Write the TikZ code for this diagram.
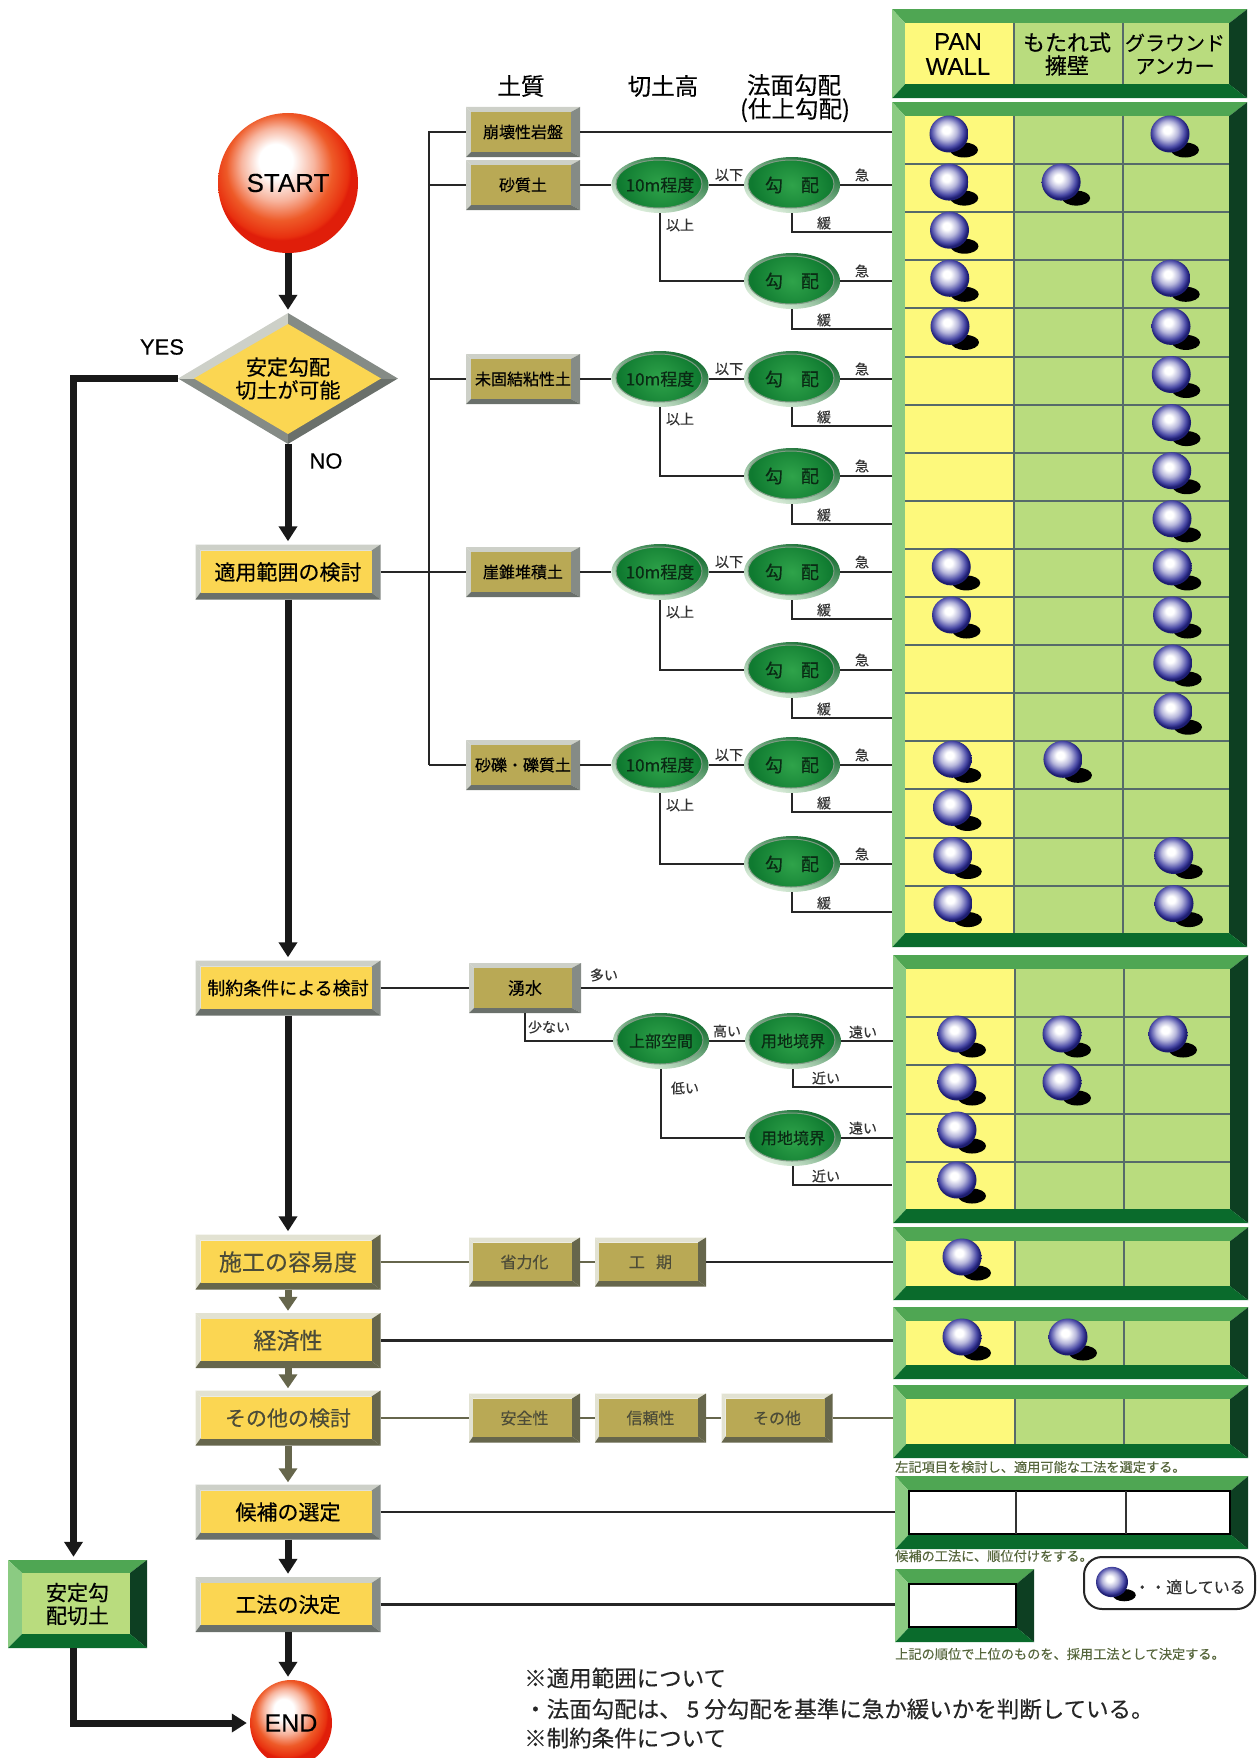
\documentclass[tikz,border=0pt]{standalone}
\usepackage{fontspec}
\setmainfont[FakeBold=0.35]{Noto Sans CJK JP}
\newfontfamily\latinfont[FakeBold=0.25]{Liberation Sans}
\usetikzlibrary{arrows.meta}
\usetikzlibrary{shapes.geometric}

\definecolor{boxyellow}{HTML}{FBD652}
\definecolor{soilface}{HTML}{B9A955}
\definecolor{edgelight}{HTML}{CDD0C8}
\definecolor{edgegrey}{HTML}{858B86}
\definecolor{edgedark}{HTML}{6A706B}
\definecolor{oliveedge}{HTML}{66664C}
\definecolor{olivelight}{HTML}{E2E2D2}
\definecolor{oliveink}{HTML}{4C4C38}
\definecolor{cellyellow}{HTML}{FDF97C}
\definecolor{cellgreen}{HTML}{B9DC7E}
\definecolor{panelleft}{HTML}{8BCB82}
\definecolor{paneltop}{HTML}{4FA653}
\definecolor{panelright}{HTML}{0D3F22}
\definecolor{panelbottom}{HTML}{0A6B2C}
\definecolor{rowgrey}{HTML}{566A6A}
\definecolor{ballblue}{HTML}{4A4AA6}
\definecolor{balldeep}{HTML}{1C1C70}
\definecolor{ballred}{HTML}{E8300F}
\definecolor{balldeepred}{HTML}{E01E0A}
\definecolor{ballorange}{HTML}{EE5A28}
\definecolor{ovalcore}{HTML}{2FA34A}
\definecolor{ovaldeep}{HTML}{0F7A30}
\definecolor{ovalring}{HTML}{7F9A84}
\definecolor{ovaldark}{HTML}{0F6A2C}
\definecolor{ovalpale}{HTML}{E6F4E4}
\definecolor{ovalink}{HTML}{0A2A14}
\definecolor{noteink}{HTML}{56663C}

\pgfdeclareradialshading{ballnavy}{\pgfpoint{-4bp}{6bp}}{color(0bp)=(white); color(5bp)=(white); color(13bp)=(ballblue!40!white); color(21bp)=(ballblue); color(25bp)=(balldeep); color(50bp)=(balldeep)}
\pgfdeclareradialshading{ballfire}{\pgfpoint{-5bp}{9bp}}{color(0bp)=(white); color(6bp)=(white); color(13bp)=(ballorange!45!white); color(19bp)=(ballorange); color(24bp)=(ballred); color(25bp)=(balldeepred); color(50bp)=(balldeepred)}

\newcommand{\sz}[1]{\fontsize{#1}{#1}\selectfont}

\newcommand{\bevelface}[9]{
    \path (path picture bounding box.north west) coordinate (onw)
          (path picture bounding box.north east) coordinate (one)
          (path picture bounding box.south east) coordinate (ose)
          (path picture bounding box.south west) coordinate (osw);
    \path ([xshift=#6pt,yshift=-#5pt]onw) coordinate (inw)
          ([xshift=-#7pt,yshift=-#5pt]one) coordinate (ine)
          ([xshift=-#7pt,yshift=#8pt]ose) coordinate (ise)
          ([xshift=#6pt,yshift=#8pt]osw) coordinate (isw);
    \fill[#1] (onw) -- (one) -- (ine) -- (inw) -- cycle;
    \fill[#2] (onw) -- (osw) -- (isw) -- (inw) -- cycle;
    \fill[#3] (one) -- (ose) -- (ise) -- (ine) -- cycle;
    \fill[#4] (osw) -- (ose) -- (ise) -- (isw) -- cycle;
    \fill[#9] (inw) rectangle (ise);
}

\newcommand{\ballmark}[3][1]{
    \begin{scope}[shift={({#2},{#3})},scale=#1]
        \fill[black] (15,16) ellipse (14 and 7.5);
        \shade[shading=ballnavy] (0,0) ellipse (19.5 and 18.5);
    \end{scope}
}

\tikzset{
    flowbox/.style={minimum width=185pt, minimum height=55pt, inner sep=0pt, font=\sz{21},
        path picture={\bevelface{edgelight}{edgelight}{edgegrey}{edgedark}{6}{5}{9}{7}{boxyellow}}},
    olivebox/.style={flowbox, text=oliveink, font=\sz{23},
        path picture={\bevelface{olivelight}{olivelight}{oliveedge}{oliveedge}{6}{5}{9}{7}{boxyellow}}},
    soilbox/.style={minimum width=114pt, minimum height=50pt, inner sep=0pt, font=\sz{16},
        path picture={\bevelface{edgelight}{edgelight}{edgegrey}{edgedark}{5}{5}{9}{5}{soilface}}},
    dustbox/.style={minimum width=111pt, minimum height=49pt, inner sep=0pt, font=\sz{16}, text=oliveink,
        path picture={\bevelface{olivelight}{olivelight}{oliveedge}{oliveedge}{5}{4}{8}{6}{soilface}}},
    ovalbox/.style={ellipse, minimum width=96pt, minimum height=56pt, inner sep=0pt, text=ovalink, font=\sz{16},
        shade, top color=ovaldark, bottom color=ovalpale, shading angle=-25,
        path picture={\shadedraw[inner color=ovalcore, outer color=ovaldeep, draw=ovalring, line width=1pt]
            ([xshift=-1pt,yshift=1pt]path picture bounding box.center) ellipse (43 and 24);}},
    cellpanel/.style={anchor=north west, minimum width=355pt, inner sep=0pt,
        path picture={\bevelface{paneltop}{panelleft}{panelright}{panelbottom}{14}{13}{18}{14}{cellgreen}
            \fill[cellyellow] (inw) rectangle ([xshift=109pt]isw);
            \draw[rowgrey, line width=1.5pt] ([xshift=109pt]inw) -- ([xshift=109pt]isw);
            \draw[rowgrey, line width=1.5pt] ([xshift=218pt]inw) -- ([xshift=218pt]isw);}},
    whitepanel/.style={anchor=north west, minimum width=353pt, minimum height=73pt, inner sep=0pt,
        path picture={\bevelface{paneltop}{panelleft}{panelright}{panelbottom}{15}{14}{18}{15}{white}
            \draw[black, line width=2pt] (inw) rectangle (ise);
            \draw[black!80, line width=1.5pt] ([xshift=107pt]inw) -- ([xshift=107pt]isw);
            \draw[black!80, line width=1.5pt] ([xshift=217pt]inw) -- ([xshift=217pt]isw);}},
    blankpanel/.style={anchor=north west, minimum width=139pt, minimum height=73pt, inner sep=0pt,
        path picture={\bevelface{paneltop}{panelleft}{panelright}{panelbottom}{15}{14}{18}{15}{white}
            \draw[black, line width=2pt] (inw) rectangle (ise);}},
    flowline/.style={line width=7pt, black!90, -{Triangle[width=18pt,length=15pt]}, shorten >=3pt},
    oliveline/.style={line width=7pt, oliveedge, -{Triangle[width=18pt,length=14pt]}, shorten >=2pt},
    thinline/.style={line width=2.5pt, black!85},
    paleline/.style={line width=2.5pt, oliveedge},
    tag/.style={inner sep=0pt, font=\sz{14}, text=black!80},
    heading/.style={inner sep=0pt, font=\sz{23.5}},
    note/.style={anchor=west, inner sep=0pt, font=\sz{13.2}, text=noteink},
    remark/.style={anchor=west, inner sep=0pt, font=\sz{22.5}, text=black!85},
}

\begin{document}
\begin{tikzpicture}[x=1pt, y=-1pt]
    \useasboundingbox (0,0) rectangle (1257,1758);

    \node[cellpanel, minimum height=89pt] (phead) at (892,9) {};
    \node[cellpanel, minimum height=845pt] (pmain) at (892,102) {};
    \node[cellpanel, minimum height=268pt] (plimit) at (893,955) {};
    \node[cellpanel, minimum height=73pt] (pease) at (893,1227) {};
    \node[cellpanel, minimum height=72pt] (pcost) at (893,1307) {};
    \node[cellpanel, minimum height=73pt] (pother) at (893,1385) {};
    \node[whitepanel] (ppick) at (895,1476) {};
    \node[blankpanel] (pfinal) at (895,1569) {};

    \foreach \r in {1,...,16}
        \draw[rowgrey, line width=2pt] (905,{116+48.1*\r}) -- (1229,{116+48.1*\r});
    \foreach \r in {1,...,4}
        \draw[rowgrey, line width=2pt] (906,{969+48.2*\r}) -- (1230,{969+48.2*\r});

    \node[inner sep=0pt, align=center, font=\latinfont\sz{24}] (hpan) at (958,54) {PAN\\[1pt]WALL};
    \node[inner sep=0pt, align=center, font=\sz{22}] (hmot) at (1067,54) {もたれ式\\[1pt]擁壁};
    \node[inner sep=0pt, align=center, font=\sz{20}] (hgra) at (1175,54) {グラウンド\\[3pt]アンカー};

    \node[heading] (tsoil) at (521,86) {土質};
    \node[heading] (theight) at (663,86) {切土高};
    \node[heading] (tslope) at (794,85) {法面勾配};
    \node[heading] (tfinish) at (795,110) {(仕上勾配)};

    \node[circle, minimum size=140pt, inner sep=0pt, shade, shading=ballfire, font=\latinfont\sz{26}] (start) at (288,183) {START};
    \node[diamond, minimum width=220pt, minimum height=131pt, aspect=1.68, inner sep=0pt, align=center, font=\sz{21},
        path picture={
            \fill[edgelight] (path picture bounding box.center) rectangle (path picture bounding box.north west);
            \fill[edgegrey] (path picture bounding box.center) rectangle (path picture bounding box.north east);
            \fill[edgegrey] (path picture bounding box.center) rectangle (path picture bounding box.south west);
            \fill[edgedark] (path picture bounding box.center) rectangle (path picture bounding box.south east);
            \fill[boxyellow, shift={(path picture bounding box.center)}] (-94,0) -- (0,-54.5) -- (93,0) -- (0,55.5) -- cycle;
        }] (check) at (288,378.5) {安定勾配\\[2pt]切土が可能};
    \node[inner sep=0pt, font=\latinfont\sz{22}] (yes) at (162,347) {YES};
    \node[inner sep=0pt, font=\latinfont\sz{22}] (no) at (326,461) {NO};

    \node[flowbox] (scope) at (288,572) {適用範囲の検討};
    \node[flowbox, font=\sz{18}] (limit) at (288,988) {制約条件による検討};
    \node[olivebox] (ease) at (288,1262) {施工の容易度};
    \node[olivebox] (cost) at (288,1340.5) {経済性};
    \node[olivebox, font=\sz{21}] (other) at (288,1418) {その他の検討};
    \node[flowbox] (pick) at (288,1512) {候補の選定};
    \node[flowbox] (final) at (288,1604.5) {工法の決定};
    \node[minimum width=139pt, minimum height=88pt, inner sep=0pt, align=center, font=\sz{21},
        path picture={\bevelface{paneltop}{panelleft}{panelright}{panelbottom}{13}{14}{17}{14}{cellgreen}}] (stable) at (77.5,1604) {安定勾\\[2pt]配切土};
    \node[ellipse, minimum width=82pt, minimum height=86pt, inner sep=0pt, shade, shading=ballfire, font=\latinfont\sz{25}] (finish) at (291,1723) {END};

    \draw[flowline] (start.south) -- (check.north);
    \draw[flowline] (check.south) -- (scope.north);
    \draw[flowline] (scope.south) -- (limit.north);
    \draw[flowline] (limit.south) -- (ease.north);
    \draw[oliveline] (ease.south) -- (cost.north);
    \draw[oliveline] (cost.south) -- (other.north);
    \draw[oliveline] (other.south) -- (pick.north);
    \draw[flowline] (pick.south) -- (final.north);
    \draw[flowline] (final.south) -- (final.south |- finish.north);
    \draw[flowline] (check.west) -| ([xshift=-4pt]stable.north);
    \draw[flowline] ([xshift=-4pt]stable.south) |- (finish.west);

    \node[soilbox] (soila) at (523,132) {崩壊性岩盤};
    \coordinate (trunka) at (429,132);
    \coordinate (trunkb) at (429,765);
    \draw[thinline] (soila.east) -- (soila.east -| pmain.west);

    \foreach \g/\soil/\y/\d in {b/砂質土/185/96, c/未固結粘性土/379/97, d/崖錐堆積土/572/98, e/砂礫・礫質土/765/99}{
        \node[soilbox] (soil\g) at (523,\y) {\soil};
        \node[ovalbox, font=\sz{17}] (high\g) at (660,\y) {10m程度};
        \node[ovalbox, font=\sz{18}] (upper\g) at (792,\y) {勾\hspace{1em}配};
        \node[ovalbox, font=\sz{18}] (lower\g) at (792,\y+\d) {勾\hspace{1em}配};
        \coordinate (slowu\g) at (892,\y+47);
        \coordinate (slowl\g) at (892,\y+\d+48);
        \draw[thinline] (soil\g.east) -- (high\g.west);
        \draw[thinline] (high\g.east) -- (upper\g.west);
        \draw[thinline] (high\g.south) |- (lower\g.west);
        \draw[thinline] (upper\g.east) -- (upper\g.east -| pmain.west);
        \draw[thinline] (lower\g.east) -- (lower\g.east -| pmain.west);
        \draw[thinline] (upper\g.south) |- (slowu\g);
        \draw[thinline] (lower\g.south) |- (slowl\g);
        \node[tag] (less\g) at (729,\y-10) {以下};
        \node[tag] (more\g) at (680,\y+40) {以上};
        \node[tag] (fastu\g) at (862,\y-10) {急};
        \node[tag] (gentu\g) at (824,\y+38) {緩};
        \node[tag] (fastl\g) at (862,\y+\d-10) {急};
        \node[tag] (gentl\g) at (824,\y+\d+39) {緩};
        \draw[thinline] (soil\g.west) -- (soil\g.west -| trunka);
    }
    \draw[thinline] (soila.west) -- (trunka) -- (trunkb);
    \draw[thinline] (scope.east) -- (scope.east -| trunka);

    \node[soilbox, minimum width=112pt, font=\sz{17}] (spring) at (525,988) {湧水};
    \node[ovalbox] (room) at (661,1041) {上部空間};
    \node[ovalbox] (landa) at (793,1041) {用地境界};
    \node[ovalbox] (landb) at (793,1138) {用地境界};
    \coordinate (neara) at (892,1087);
    \coordinate (nearb) at (892,1185);
    \draw[thinline] (limit.east) -- (spring.west);
    \draw[thinline] (spring.east) -- (spring.east -| plimit.west);
    \draw[thinline] (spring.south) |- (room.west);
    \draw[thinline] (room.east) -- (landa.west);
    \draw[thinline] (room.south) |- (landb.west);
    \draw[thinline] (landa.east) -- (landa.east -| plimit.west);
    \draw[thinline] (landb.east) -- (landb.east -| plimit.west);
    \draw[thinline] (landa.south) |- (neara);
    \draw[thinline] (landb.south) |- (nearb);
    \node[tag] (tagmany) at (604,975) {多い};
    \node[tag] (tagfew) at (549,1027) {少ない};
    \node[tag] (taghigh) at (727,1031) {高い};
    \node[tag] (taglow) at (685,1088) {低い};
    \node[tag] (tagfara) at (863,1032) {遠い};
    \node[tag] (tagneara) at (826,1078) {近い};
    \node[tag] (tagfarb) at (863,1128) {遠い};
    \node[tag] (tagnearb) at (826,1176) {近い};

    \node[dustbox] (labor) at (524.5,1262) {省力化};
    \node[dustbox] (term) at (650.5,1262) {工\hspace{.7em}期};
    \node[dustbox] (safe) at (524.5,1418) {安全性};
    \node[dustbox] (trust) at (650.5,1418) {信頼性};
    \node[dustbox] (misc) at (777,1418) {その他};
    \draw[paleline] (ease.east) -- (labor.west);
    \draw[paleline] (labor.east) -- (term.west);
    \draw[thinline] (term.east) -- (term.east -| pease.west);
    \draw[thinline] (cost.east) -- (cost.east -| pcost.west);
    \draw[paleline] (other.east) -- (safe.west);
    \draw[paleline] (safe.east) -- (trust.west);
    \draw[paleline] (trust.east) -- (misc.west);
    \draw[paleline] (misc.east) -- (misc.east -| pother.west);
    \draw[thinline] (pick.east) -- (pick.east -| ppick.west);
    \draw[thinline] (final.east) -- (final.east -| pfinal.west);

    \foreach \r in {0,1,2,3,4,9,10,13,14,15,16}{
        \ballmark{949+0.25*\r}{134+48.1*\r}
    }
    \foreach \r in {1,13}{
        \ballmark{1061+0.15*\r}{134+48.1*\r}
    }
    \foreach \r in {0,3,4,5,6,7,8,9,10,11,12,15,16}{
        \ballmark{1170+0.25*\r}{134+48.1*\r}
    }
    \foreach \bx/\by in {957/1034, 1062/1034, 1168/1034, 957/1082, 1062/1082, 957/1130, 957/1180, 962/1257, 962/1337, 1068/1337}{
        \ballmark{\bx}{\by}
    }

    \node[note] (notea) at (895,1467) {左記項目を検討し、適用可能な工法を選定する。};
    \node[note] (noteb) at (895,1556) {候補の工法に、順位付けをする。};
    \node[note] (notec) at (895,1654) {上記の順位で上位のものを、採用工法として決定する。};

    \node[draw=black!85, line width=2pt, rounded corners=18pt, minimum width=171pt, minimum height=52pt, fill=white] (legend) at (1169.5,1583) {};
    \ballmark[0.82]{1112}{1582}
    \node[inner sep=0pt, font=\sz{16}, text=black!80] (legendtext) at (1190,1587) {・・適している};

    \node[remark] (remarka) at (524,1678) {※適用範囲について};
    \node[remark] (remarkb) at (524,1709) {・法面勾配は、 5 分勾配を基準に急か緩いかを判断している。};
    \node[remark] (remarkc) at (524,1738) {※制約条件について};
\end{tikzpicture}
\end{document}
